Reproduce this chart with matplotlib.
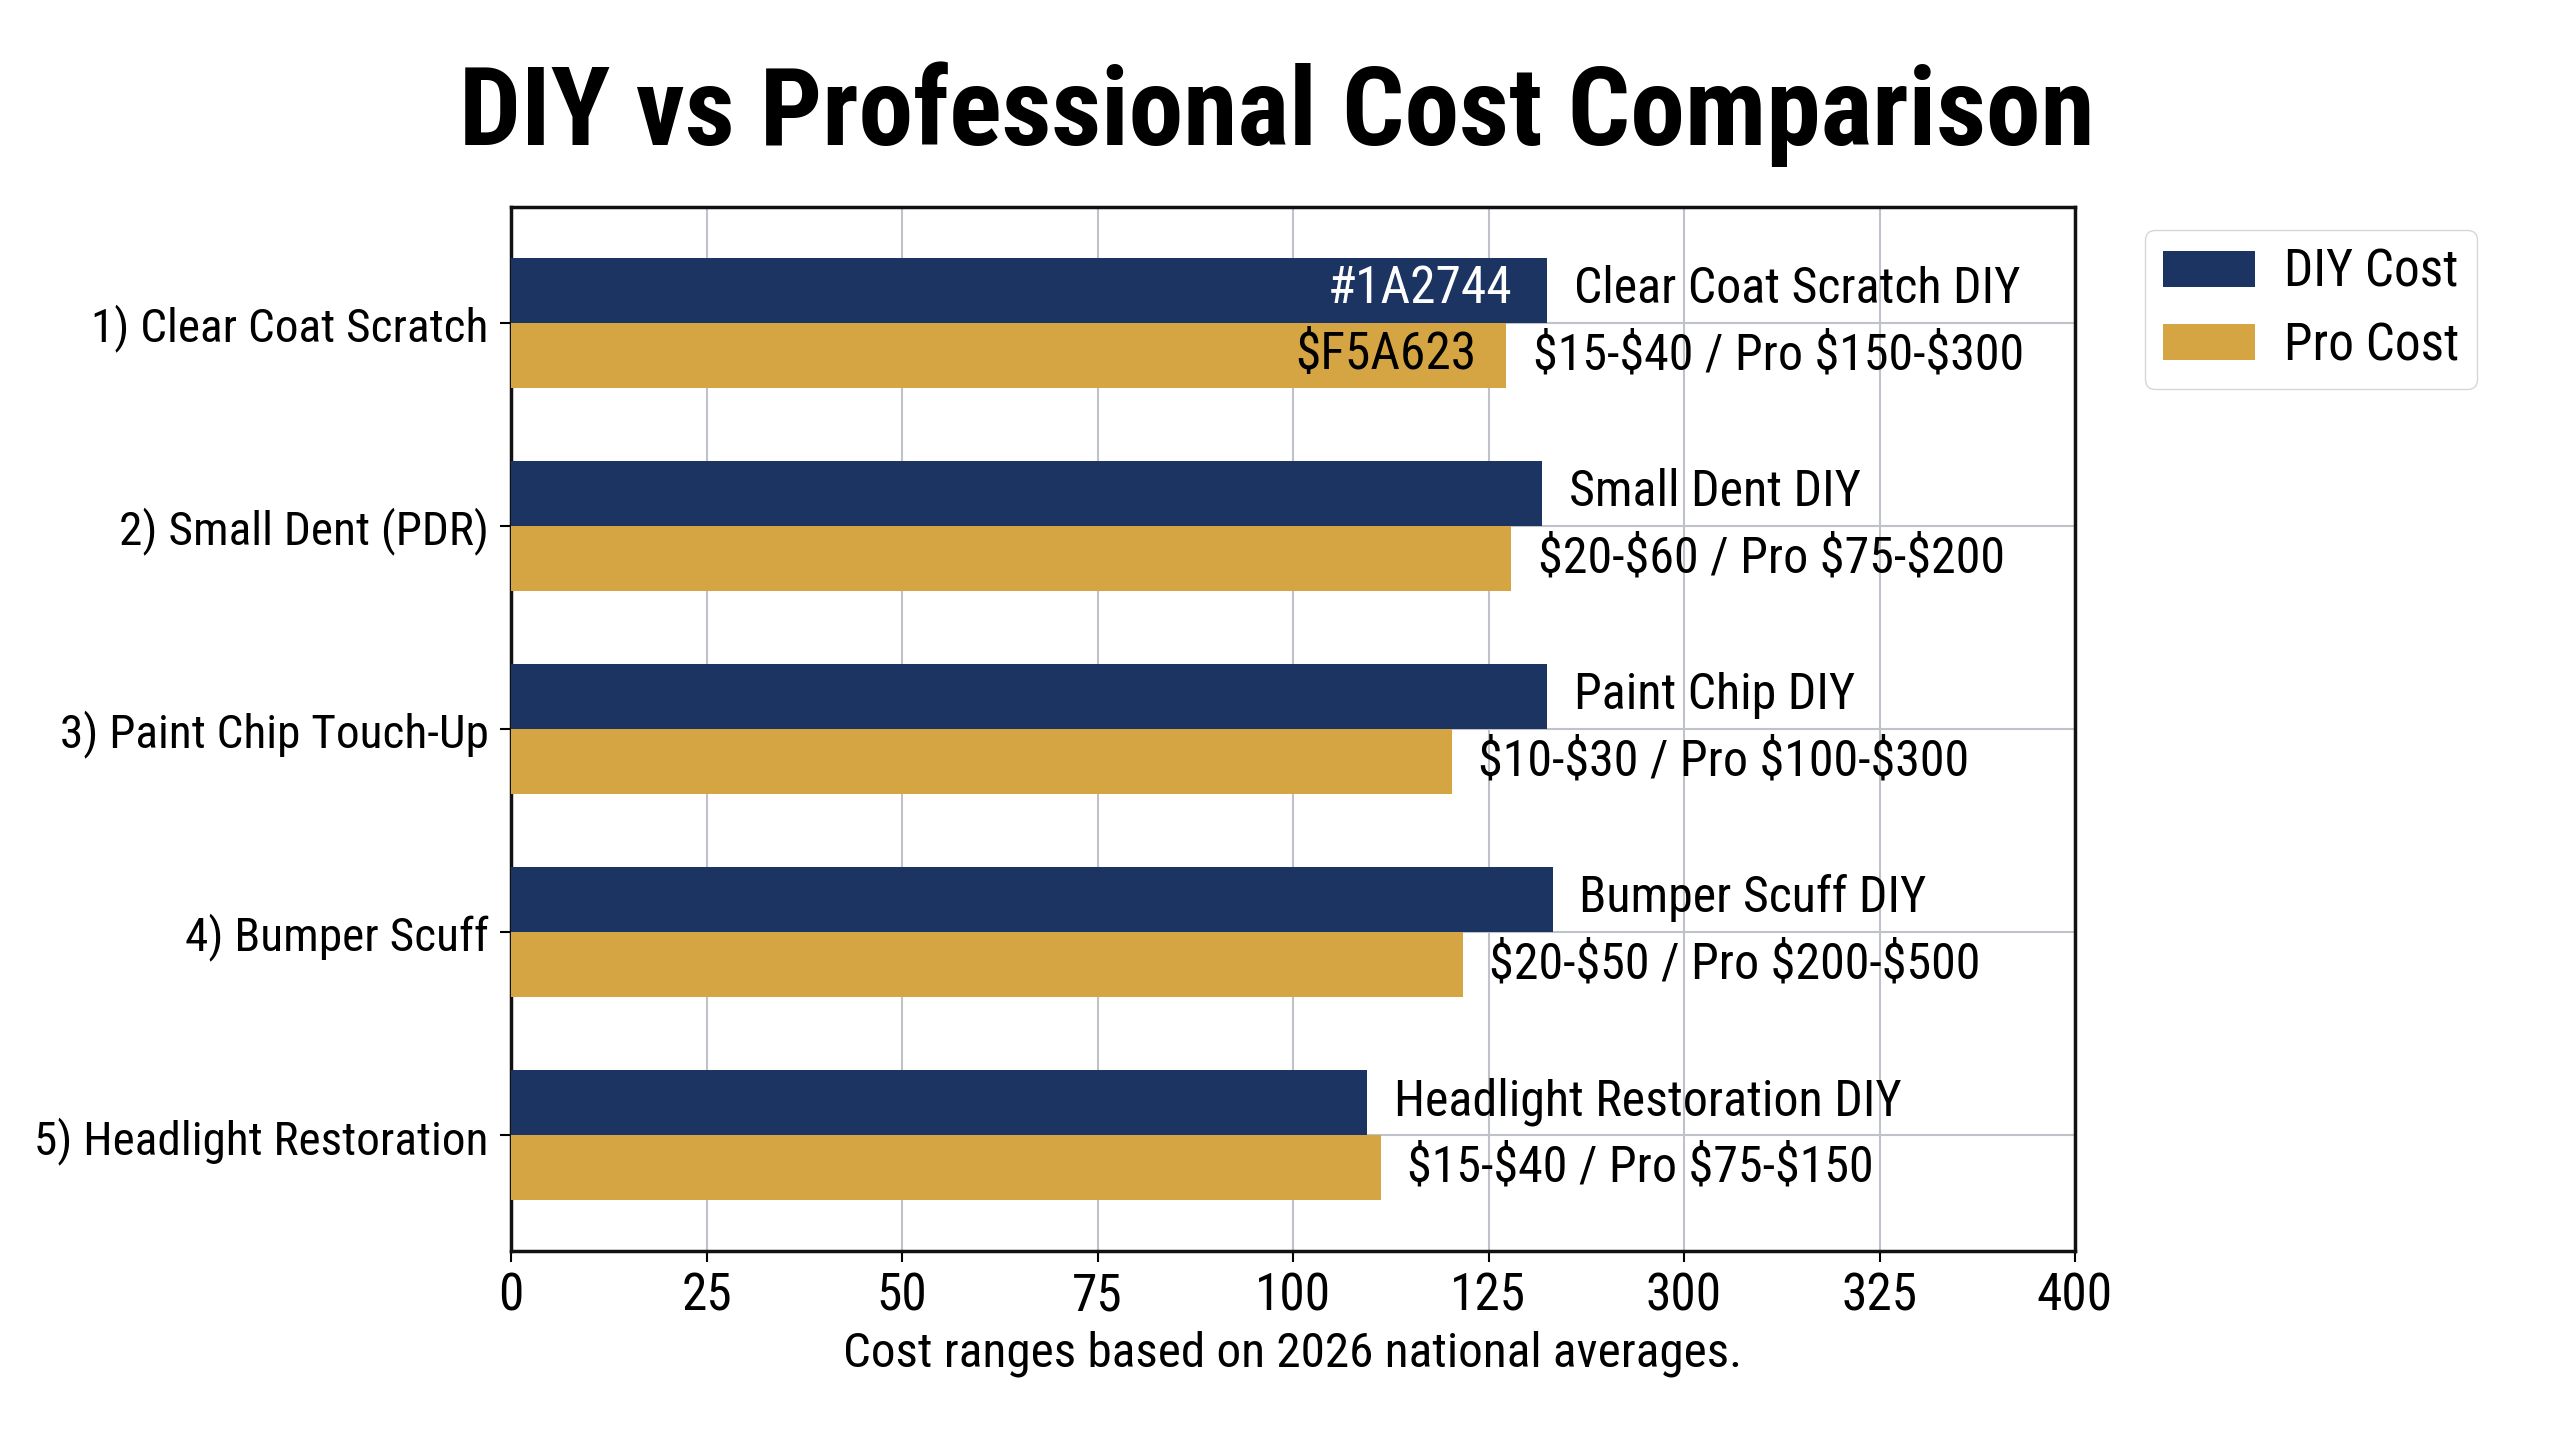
import matplotlib
matplotlib.use("Agg")
import matplotlib.pyplot as plt
import numpy as np

##################### PLOT SETTINGS #####################
plt.rcParams['font.family'] = ['Roboto Condensed', 'Barlow Condensed', 'DejaVu Sans']
diy_color = '#1B3461'
pro_color = '#D5A443'
ann_size = 36
###################################################################

categories = ['1) Clear Coat Scratch', '2) Small Dent (PDR)', '3) Paint Chip Touch-Up',
              '4) Bumper Scuff', '5) Headlight Restoration']
diy_values = [132.5, 131.9, 132.5, 133.2, 109.5]
pro_values = [127.3, 127.9, 120.3, 121.7, 111.2]
diy_labels = ['Clear Coat Scratch DIY', 'Small Dent DIY', 'Paint Chip DIY',
              'Bumper Scuff DIY', 'Headlight Restoration DIY']
pro_labels = ['$15-$40 / Pro $150-$300', '$20-$60 / Pro $75-$200', '$10-$30 / Pro $100-$300',
              '$20-$50 / Pro $200-$500', '$15-$40 / Pro $75-$150']
xtick_values = [0, 25, 50, 75, 100, 125, 150, 175, 200]
xtick_labels = ['0', '25', '50', '75', '100', '125', '300', '325', '400']

fig = plt.figure(figsize=(25.6, 14.4), dpi=100)
ax = fig.add_axes([511/2560, 1 - 1251/1440, (2075-511)/2560, (1251-207)/1440])

y = np.arange(len(categories))
h = 0.32
ax.barh(y - h/2, diy_values, height=h, color=diy_color, label='DIY Cost', zorder=3)
ax.barh(y + h/2, pro_values, height=h, color=pro_color, label='Pro Cost', zorder=3)

for i in range(len(categories)):
    ax.annotate(diy_labels[i], (diy_values[i], y[i] - h/2), xytext=(19, 1),
                textcoords='offset points', va='center', ha='left', fontsize=ann_size,
                parse_math=False, zorder=4)
    ax.annotate(pro_labels[i], (pro_values[i], y[i] + h/2), xytext=(19, 0),
                textcoords='offset points', va='center', ha='left', fontsize=ann_size,
                parse_math=False, zorder=4)

# colour codes written inside the first pair of bars
ax.annotate('#1A2744', (diy_values[0], y[0] - h/2), xytext=(-25, 1), textcoords='offset points',
            va='center', ha='right', fontsize=37, color='white', parse_math=False, zorder=4)
ax.annotate('$F5A623', (pro_values[0], y[0] + h/2), xytext=(-22, 0), textcoords='offset points',
            va='center', ha='right', fontsize=37, color='black', parse_math=False, zorder=4)

ax.set_xlim(0, 200)
ax.set_ylim(len(categories) - 1 + 0.57, -0.57)
ax.set_xticks(xtick_values)
ax.set_xticklabels(xtick_labels)
ax.set_yticks(y)
ax.set_yticklabels(categories)
ax.tick_params(axis='y', labelsize=34, length=8, width=1.5, pad=8)
ax.tick_params(axis='x', labelsize=37, length=8, width=1.5, pad=7)
ax.grid(True, color='#BFC3C9', linewidth=1.5, zorder=0)
ax.set_axisbelow(True)
for s in ax.spines.values():
    s.set_linewidth(2.5)
    s.set_color('#111111')

ax.set_xlabel('Cost ranges based on 2026 national averages.', fontsize=35.5, labelpad=6)
fig.text(1277/2560, 1 - 114/1440, 'DIY vs Professional Cost Comparison',
         fontsize=79, fontweight='bold', ha='center', va='center')

ax.legend(loc='upper left', bbox_to_anchor=(2145/2560, 1 - 230/1440), bbox_transform=fig.transFigure,
          fontsize=37, frameon=True, fancybox=True, edgecolor='#CCCCCC', handlelength=1.8,
          handleheight=0.7, borderpad=0.35, labelspacing=0.45, handletextpad=0.55,
          borderaxespad=0)

fig.savefig('out.png', dpi=100)
